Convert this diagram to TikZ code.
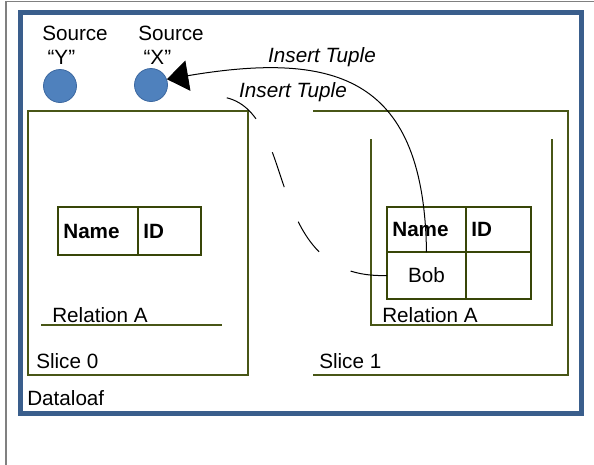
\documentclass[tikz,border=0pt]{standalone}
\usepackage{fontspec}
\setmainfont{Liberation Sans}
\usetikzlibrary{arrows.meta}

\definecolor{loafblue}{RGB}{58,94,140}
\definecolor{srcblue}{RGB}{79,129,189}
\definecolor{srcedge}{RGB}{60,104,160}
\definecolor{sliceline}{RGB}{72,86,22}
\definecolor{tabline}{RGB}{56,70,8}

\begin{document}
\begin{tikzpicture}[
  x=0.75pt, y=-0.75pt,
  every node/.style={font=\fontsize{15.5pt}{18pt}\selectfont, inner sep=0pt},
  source/.style={circle, draw=srcedge, fill=srcblue, line width=0.6pt, minimum size=24.75pt},
  txt/.style={anchor=base west},
  act/.style={anchor=base, font=\fontsize{15.5pt}{18pt}\selectfont\itshape},
  cell/.style={draw=tabline, line width=1.8pt, outer sep=0pt, anchor=north west,
    inner xsep=4pt, align=left, font=\fontsize{15.5pt}{18pt}\selectfont\bfseries},
  slicebox/.style={draw=sliceline, line width=1.5pt},
  link/.style={line width=0.75pt}
  ]

\useasboundingbox (0,0) rectangle (594,465);

\draw[gray, line width=1.1pt] (6,465) -- (6,1.5) -- (594,1.5);
\draw[loafblue, line width=3.75pt] (20.5,12.5) rectangle (581,413);

\draw[slicebox] (28,111) rectangle (248,375);
\draw[slicebox] (313,111) -- (568,111) -- (568,375) -- (313,375);
\draw[slicebox] (41,325) -- (222,325);
\draw[slicebox] (371,139) -- (371,325) -- (552,325) -- (552,139);

\node[source] (srcY) at (60,86) {};
\node[source] (srcX) at (151,85) {};
\node[anchor=north west, align=left] (srcYtxt) at (42,26) {Source\\\hspace{4pt}“Y”};
\node[anchor=north west, align=left] (srcXtxt) at (138,26) {Source\\\hspace{4pt}“X”};

\node[cell, text width=52pt, minimum height=36pt] (nameL) at (58,207) {Name};
\node[cell, text width=39.25pt, minimum height=36pt] (idL) at (138,207) {ID};

\node[cell, text width=51.25pt, minimum height=33.75pt] (nameR) at (387,207) {Name};
\node[cell, text width=40.75pt, minimum height=33.75pt] (idR) at (466,207) {ID};
\node[cell, text width=51.25pt, minimum height=35.25pt, align=center,
  font=\fontsize{15.5pt}{18pt}\selectfont] (bob) at (387,252) {Bob};
\node[cell, text width=40.75pt, minimum height=35.25pt] (bobID) at (466,252) {};

\node[txt] (relA0) at (52,322) {Relation A};
\node[txt] (relA1) at (382,322) {Relation A};
\node[txt] (slice0) at (36,368) {Slice 0};
\node[txt] (slice1) at (319,368) {Slice 1};
\node[txt] (loaf) at (27,405) {Dataloaf};

\node[act] (insX) at (322,62) {Insert Tuple};
\node[act] (insY) at (293,97) {Insert Tuple};

\coordinate (insYend) at (223,97);
\draw[link, -{Triangle[length=16pt,width=23pt]}] (nameR.south)
  .. controls (424,80) and (340,50) .. (srcX.20);
\draw[link, dash pattern=on 27.6pt off 28pt] (bob.west)
  .. controls (260,280) and (300,110) .. (insYend);

\end{tikzpicture}
\end{document}
